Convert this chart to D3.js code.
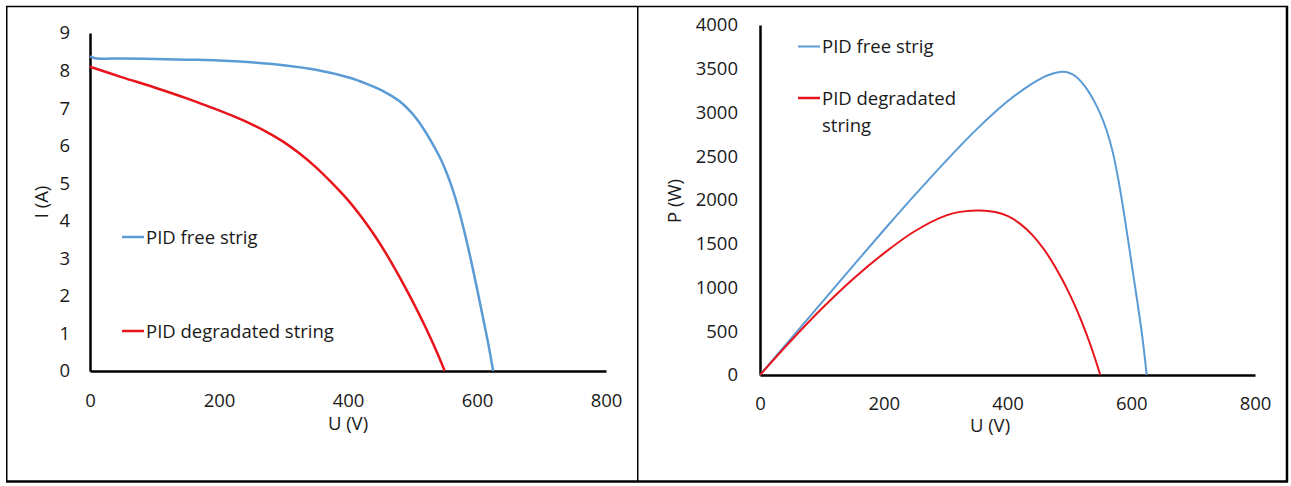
<!DOCTYPE html>
<html>
<head>
<meta charset="utf-8">
<script src="https://cdn.jsdelivr.net/npm/d3@7/dist/d3.min.js"></script>
<style>
  html, body { margin: 0; padding: 0; background: #fff; }
  svg { display: block; }
  text { font-family: "Open Sans", "Noto Sans", sans-serif; fill: #1a1a1a; }
</style>
</head>
<body>
<svg id="chart" width="1291" height="486"></svg>
<script>
// ---- Data ----
// Left chart: I-V curves
const ivFreeU = [0, 8, 50, 100, 150, 200, 250, 300, 350, 400, 430, 450, 460, 470, 480, 490, 500, 510, 520, 530, 540, 550, 560, 570, 580, 590, 600, 610, 618, 625];
const ivFreeI = [8.38, 8.33, 8.32, 8.31, 8.29, 8.27, 8.22, 8.14, 8.02, 7.82, 7.64, 7.49, 7.40, 7.30, 7.18, 7.03, 6.85, 6.63, 6.37, 6.08, 5.77, 5.40, 4.95, 4.40, 3.74, 3.00, 2.20, 1.36, 0.68, 0];
const ivDegU = [0, 50, 100, 150, 175, 200, 225, 250, 275, 300, 325, 350, 375, 400, 420, 440, 460, 480, 500, 520, 535, 550];
const ivDegI = [8.10, 7.82, 7.55, 7.26, 7.10, 6.94, 6.765, 6.575, 6.355, 6.10, 5.79, 5.43, 5.01, 4.55, 4.12, 3.64, 3.10, 2.50, 1.86, 1.17, 0.61, 0];

// Right chart: P-V curves
const pvFreeU = [0, 50, 100, 150, 200, 250, 300, 350, 400, 430, 450, 460, 470, 480, 490, 500, 510, 520, 530, 540, 550, 560, 570, 580, 590, 600, 610, 618, 625];
const pvFreeP = [0, 416, 831, 1244, 1654, 2055, 2442, 2807, 3128, 3285, 3372, 3410, 3437, 3458, 3465, 3452, 3415, 3345, 3250, 3130, 2985, 2800, 2550, 2200, 1770, 1300, 830, 430, 0];
const pvDegU = [0, 50, 100, 150, 200, 250, 300, 330, 355, 380, 400, 420, 440, 460, 480, 500, 520, 535, 550];
const pvDegP = [0, 391, 760, 1095, 1390, 1643, 1822, 1870, 1880, 1862, 1818, 1730, 1602, 1426, 1200, 930, 608, 326, 0];

// Tick labels / axis titles / legend
const xTicks = [0, 200, 400, 600, 800];
const ivTicks = [0, 1, 2, 3, 4, 5, 6, 7, 8, 9];
const pvTicks = [0, 500, 1000, 1500, 2000, 2500, 3000, 3500, 4000];
const seriesNames = ["PID free strig", "PID degradated string"];
const seriesColors = ["#5B9BD5", "#E8141B"];

const svg = d3.select("#chart");

// ---- Frame ----
const frame = svg.append("g").attr("stroke", "#000").attr("fill", "none");
frame.append("line").attr("x1", 6).attr("x2", 1288).attr("y1", 6.5).attr("y2", 6.5).attr("stroke-width", 1.5);
frame.append("line").attr("x1", 6.75).attr("x2", 6.75).attr("y1", 6).attr("y2", 482).attr("stroke-width", 1.5);
frame.append("line").attr("x1", 6).attr("x2", 1288).attr("y1", 481.5).attr("y2", 481.5).attr("stroke-width", 2.5);
frame.append("line").attr("x1", 1287).attr("x2", 1287).attr("y1", 6).attr("y2", 482).attr("stroke-width", 2.5);
frame.append("line").attr("x1", 637.75).attr("x2", 637.75).attr("y1", 6).attr("y2", 482).attr("stroke-width", 1.5);

const fontSize = 18.5;

function drawChart(cfg) {
  const g = svg.append("g");
  const x = d3.scaleLinear().domain([0, 800]).range([cfg.x0, cfg.x1]);
  const y = d3.scaleLinear().domain([0, cfg.yMax]).range([cfg.y0, cfg.y1]);

  // Axes
  const xa = g.append("g").attr("transform", `translate(0,${cfg.y0})`)
    .call(d3.axisBottom(x).tickValues(xTicks).tickSize(0).tickFormat(d3.format("d")));
  xa.selectAll("text").attr("y", cfg.xLabBase).attr("dy", 0).style("font-size", fontSize + "px");
  const ya = g.append("g").attr("transform", `translate(${cfg.x0},0)`)
    .call(d3.axisLeft(y).tickValues(cfg.yTicks).tickSize(0).tickPadding(cfg.yPad).tickFormat(d3.format("d")));
  ya.selectAll("text").style("font-size", fontSize + "px");
  g.selectAll(".domain").attr("stroke", "#000").attr("stroke-width", 2.5);
  g.selectAll(".tick text").attr("fill", "#1a1a1a");
  xa.attr("font-family", null); ya.attr("font-family", null);

  // Lines
  const line = d3.line().x(d => x(d[0])).y(d => y(d[1])).curve(d3.curveCatmullRom.alpha(0.5));
  cfg.series.forEach((s, i) => {
    const pts = s.u.map((u, k) => [u, s.v[k]]);
    g.append("path").datum(pts).attr("d", line)
      .attr("fill", "none").attr("stroke", seriesColors[i])
      .attr("stroke-width", cfg.lw[i]).attr("stroke-linejoin", "round");
  });

  // Axis titles
  g.append("text").attr("x", cfg.xTitle[0]).attr("y", cfg.xTitle[1])
    .attr("text-anchor", "middle").style("font-size", fontSize + "px").text("U (V)");
  g.append("text")
    .attr("transform", `translate(${cfg.yTitle[0]},${cfg.yTitle[1]}) rotate(-90)`)
    .attr("text-anchor", "middle").style("font-size", fontSize + "px").text(cfg.yName);

  // Legend
  cfg.legend.forEach((L, i) => {
    g.append("line").attr("x1", L.x).attr("x2", L.x + 22).attr("y1", L.y).attr("y2", L.y)
      .attr("stroke", seriesColors[i]).attr("stroke-width", cfg.legLw[i]);
    const t = g.append("text").attr("x", L.x + 24).attr("y", L.y + 6.5).style("font-size", fontSize + "px");
    L.lines.forEach((s, k) => {
      t.append("tspan").attr("x", L.x + 24).attr("dy", k === 0 ? 0 : 27).text(s);
    });
  });
}

drawChart({
  x0: 90, x1: 606, y0: 371, y1: 33, yMax: 9, yTicks: ivTicks, yPad: 20, xLabBase: 36,
  series: [{u: ivFreeU, v: ivFreeI}, {u: ivDegU, v: ivDegI}],
  lw: [2.5, 2.5], legLw: [2.5, 2.5],
  xTitle: [348, 430], yTitle: [48, 202], yName: "I (A)",
  legend: [{x: 122, y: 237, lines: [seriesNames[0]]}, {x: 122, y: 331, lines: [seriesNames[1]]}]
});

drawChart({
  x0: 760, x1: 1255, y0: 375, y1: 25, yMax: 4000, yTicks: pvTicks, yPad: 22, xLabBase: 35,
  series: [{u: pvFreeU, v: pvFreeP}, {u: pvDegU, v: pvDegP}],
  lw: [2, 2], legLw: [2, 2.5],
  xTitle: [990, 432], yTitle: [681, 201], yName: "P (W)",
  legend: [{x: 798, y: 46.5, lines: [seriesNames[0]]}, {x: 798, y: 98, lines: ["PID degradated", "string"]}]
});
</script>
</body>
</html>
